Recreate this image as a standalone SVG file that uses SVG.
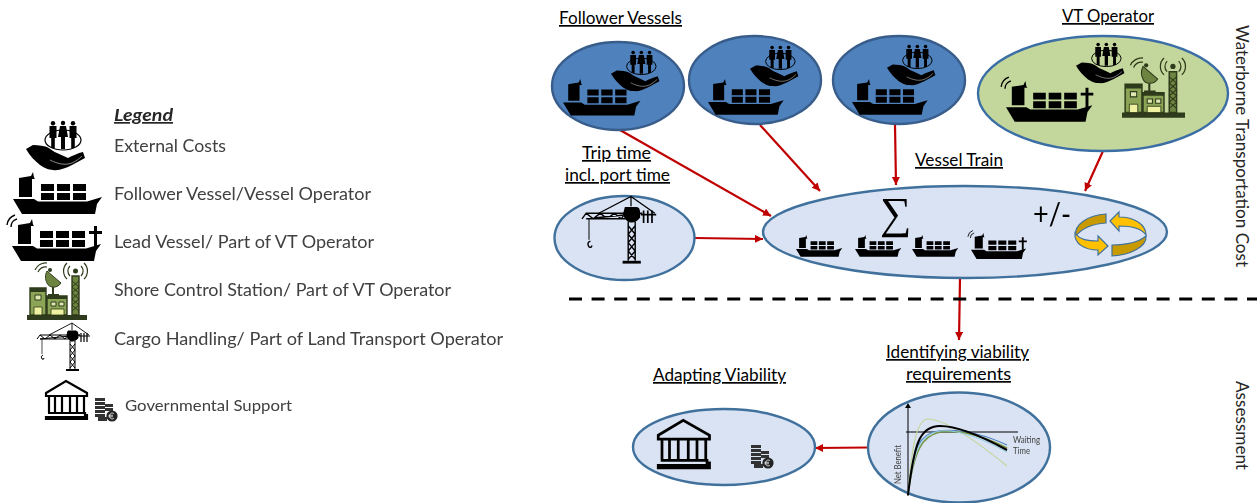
<svg xmlns="http://www.w3.org/2000/svg" xmlns:xlink="http://www.w3.org/1999/xlink" width="1257" height="503" viewBox="0 0 1257 503">
<style>
text{font-family:"Lato","Open Sans","Liberation Sans",sans-serif;fill:#000}
.lg{font-size:17px;fill:#404040}
.hd{font-size:17px;text-decoration:underline}
.vert{font-size:17px;fill:#262626}
.blue{fill:#4f81bd;stroke:#385d8a;stroke-width:2.4}
.light{fill:#dae3f3;stroke:#41719c;stroke-width:2.4}
.green{fill:#c3d69b;stroke:#3b6ea5;stroke-width:2.4}
.conn{stroke:#c00000;stroke-width:2.2;fill:none;marker-end:url(#arr)}
.soft{filter:url(#b)}
</style>
<defs>
<filter id="b" x="-10%" y="-10%" width="120%" height="120%"><feGaussianBlur stdDeviation="0.35"/></filter>
<marker id="arr" markerUnits="userSpaceOnUse" markerWidth="10" markerHeight="10" refX="8" refY="4" orient="auto"><path d="M0,0L8,4L0,8Z" fill="#c00000"/></marker>
<g id="ship">
<path d="M0,27H21L25,29.500H74L89,25L84,32L82,42H9Z" fill="#000"/>
<path d="M6,6L18,4L20,0L21,5.500L22,7H19V25H6Z" fill="#000"/>
<path d="M28,12H41V19H28ZM44,12H57V19H44ZM60,12H73V19H60ZM28,21H41V28H28ZM44,21H57V28H44ZM60,21H73V28H60Z" fill="#000"/>
</g>
<g id="lead">
<use href="#ship"/>
<path d="M-1,8A8,8 0 0 1 5,0M-5,6A12,12 0 0 1 3,-4" fill="none" stroke="#000" stroke-width="1.4"/>
<path d="M82,7H85V12H90V15H85V30H82V15H77V12H82Z" fill="#000"/>
</g>
<g id="person"><circle cx="0" cy="2.2" r="2.2"/><path d="M-3.500,5H3.500V17H1.800V27H-1.800V17H-3.500Z"/></g>
<g id="hand">
<ellipse cx="37" cy="20" rx="18" ry="10" fill="none" stroke="#000" stroke-width="1.2"/>
<use href="#person" x="27" y="1"/><use href="#person" x="47" y="1"/>
<g><circle cx="37" cy="3" r="2.200"/><path d="M34,6H40L42,17H39V29H35V17H32Z"/></g>
<path d="M0,29L7,25C13,25 18,26 21,27C25,29 28,32 31,33L42,38C46,36 52,33 57,32L59,38L46,45C40,48 33,51 27,50C22,50 17,47 14,45C9,41 4,36 0,29Z" fill="#000"/>
<path d="M24,40C30,43 38,46 46,43C50,41 53,39 56,36" fill="none" stroke="#aaa" stroke-width=".8"/>
</g>
<g id="building">
<path d="M0,52H60V57H0Z" fill="#2e3a1a"/>
<path d="M3,25H19V52H3ZM20,33H40V52H20Z" fill="#8ca454" stroke="#2e3a1a" stroke-width="1.400"/>
<path d="M3,25H19V29H3ZM20,33H40V36H20Z" fill="#2e3a1a"/>
<path d="M8,32H14V37H8ZM24,39H29V43H24ZM32,39H37V43H32Z" fill="#dfe8b0" stroke="#2e3a1a"/>
<path d="M7,44H15V52H7ZM24,46H37V52H24Z" fill="#eef2a0" stroke="#2e3a1a" stroke-width=".8"/>
<path d="M45,13H52V52H45Z" fill="#6d8440" stroke="#2e3a1a" stroke-width="1.400"/>
<path d="M45,18L52,24L45,30L52,36L45,42L52,48M52,18L45,24L52,30L45,36L52,42L45,48" stroke="#2e3a1a" fill="none"/>
<circle cx="48.500" cy="8" r="2.500" fill="#2e3a1a"/>
<path d="M43,3A7,7 0 0 0 43,13M40,0A11,11 0 0 0 40,16M54,3A7,7 0 0 1 54,13M57,0A11,11 0 0 1 57,16M11,9A8,8 0 0 1 20,4M8,7A12,12 0 0 1 20,0" fill="none" stroke="#2e3a1a" stroke-width="1.200"/>
<path d="M20,8L34,20C30,26 22,25 20,20C18,16 18,12 20,8Z" fill="#6d8440" stroke="#2e3a1a"/>
<path d="M26,24V32M21,32H32" stroke="#2e3a1a" stroke-width="2"/>
<circle cx="23" cy="7" r="2" fill="#2e3a1a"/>
</g>
<g id="crane" fill="none" stroke="#000">
<path d="M0,17L3,13H43L3,17H31M3,13L8,17L13,13L18,17L23,13L28,17L31,13" stroke-width="1"/>
<path d="M12,13L35,1L52,13M35,1V8" stroke-width=".9"/>
<path d="M33,19V47M38,19V47M33,22L38,28L33,34L38,40L33,46M38,22L33,28L38,34L33,40L38,46" stroke-width="1"/>
<path d="M29,48H42" stroke-width="2"/>
<path d="M31,9H39Q41,9 41,13V16Q38,20 34,19Q30,17 30,13Z" fill="#000"/>
<path d="M44,11V20M47,11V20M50,11V20M42,14H53" stroke-width="1.200"/>
<path d="M5,17V32" stroke-width=".7"/>
<path d="M6,33Q3,34 5,37Q7,38 7,36" stroke-width="1"/>
</g>
<g id="bank" fill="none" stroke="#000" stroke-width="2.200">
<path d="M1,13L21,1L42,13V16H1Z"/>
<path d="M4,16V33M10,16V33M17,16V33M25,16V33M32,16V33M39,16V33M3,33H40V37H1V39H42V34"/>
</g>
<g id="coins">
<path d="M0,1H10V4H0ZM0,5H10V8H0ZM0,9H10V12H0ZM0,13H10V16H0ZM0,17H10V20H0ZM10,7H18V10H10ZM10,11H18V14H10Z" fill="#333"/>
<path d="M3,20H12V24H3Z" fill="#333"/>
<circle cx="17" cy="19" r="5.600" fill="#222"/>
<path d="M19,16.500A3,3 0 1 0 19,21.500M13.500,18.300H18M13.500,19.800H18" fill="none" stroke="#eee" stroke-width=".8"/>
</g>
</defs>
<g id="legend" class="soft">
<text x="114" y="121" style="font-size:17px;font-weight:700;font-style:italic;text-decoration:underline;fill:#262626" textLength="59" lengthAdjust="spacingAndGlyphs">Legend</text>
<use href="#hand" x="26" y="120"/>
<text class="lg" x="114" y="152" textLength="112" lengthAdjust="spacingAndGlyphs">External Costs</text>
<use href="#ship" x="13" y="172"/>
<text class="lg" x="114" y="200" textLength="257" lengthAdjust="spacingAndGlyphs">Follower Vessel/Vessel Operator</text>
<use href="#lead" x="12" y="219"/>
<text class="lg" x="114" y="248" textLength="260" lengthAdjust="spacingAndGlyphs">Lead Vessel/ Part of VT Operator</text>
<use href="#building" x="27" y="263"/>
<text class="lg" x="114" y="296" textLength="337" lengthAdjust="spacingAndGlyphs">Shore Control Station/ Part of VT Operator</text>
<use href="#crane" x="37" y="322"/>
<text class="lg" x="114" y="345" textLength="389" lengthAdjust="spacingAndGlyphs">Cargo Handling/ Part of Land Transport Operator</text>
<use href="#bank" x="45" y="380"/>
<use href="#coins" x="95" y="397"/>
<text class="lg" x="125" y="411" style="font-size:15px" textLength="167" lengthAdjust="spacingAndGlyphs">Governmental Support</text>
</g>
<g id="connectors">
<path class="conn" d="M620,130L771,216"/>
<path class="conn" d="M760,125L820,191"/>
<path class="conn" d="M895,125L896,185"/>
<path class="conn" d="M1103,151L1085,191"/>
<path class="conn" d="M695,238L763,239"/>
<path class="conn" d="M960,278L959,340"/>
<path class="conn" d="M868,447.500L815,448"/>
</g>
<path id="divider" d="M569,299H1257" stroke="#000" stroke-width="3" stroke-dasharray="13 9.600" fill="none"/>
<g id="follower-1" class="soft">
<ellipse class="blue" cx="618" cy="86" rx="66" ry="44"/>
<use href="#hand" transform="translate(611,50) scale(.82)"/>
<use href="#ship" transform="translate(563,79) scale(.87)"/>
</g>
<g id="follower-2" class="soft">
<ellipse class="blue" cx="755" cy="80" rx="66" ry="44"/>
<use href="#hand" transform="translate(750,45) scale(.82)"/>
<use href="#ship" transform="translate(708,79) scale(.85)"/>
</g>
<g id="follower-3" class="soft">
<ellipse class="blue" cx="899" cy="80" rx="66" ry="44"/>
<use href="#hand" transform="translate(887,44) scale(.82)"/>
<use href="#ship" transform="translate(852,79) scale(.85)"/>
</g>
<text class="hd" x="559" y="24" textLength="123" lengthAdjust="spacingAndGlyphs">Follower Vessels</text>
<g id="vt-operator" class="soft">
<ellipse class="green" cx="1103" cy="93.500" rx="125" ry="57.500"/>
<use href="#hand" transform="translate(1076,42) scale(.82)"/>
<use href="#lead" transform="translate(1006,81) scale(.97)"/>
<use href="#building" transform="translate(1122,58) scale(1.05)"/>
</g>
<text class="hd" x="1062" y="22" textLength="92" lengthAdjust="spacingAndGlyphs">VT Operator</text>
<g id="trip-time" class="soft">
<ellipse class="light" cx="624.500" cy="238" rx="70" ry="42"/>
<use href="#crane" transform="translate(582,195) scale(1.4)"/>
</g>
<text class="hd" x="582" y="159" textLength="69" lengthAdjust="spacingAndGlyphs">Trip time </text>
<text class="hd" x="565" y="181" textLength="105" lengthAdjust="spacingAndGlyphs">incl. port time</text>
<g id="vessel-train" class="soft">
<ellipse class="light" cx="965" cy="232" rx="202" ry="46"/>
<text x="880" y="228" style="font-family:'Liberation Serif',serif;font-size:44px">∑</text>
<use href="#ship" transform="translate(796,235) scale(.52)"/>
<use href="#ship" transform="translate(855,235) scale(.52)"/>
<use href="#ship" transform="translate(912,235) scale(.52)"/>
<use href="#lead" transform="translate(971,233) scale(.62)"/>
<text x="1033" y="225" style="font-size:30px" textLength="38" lengthAdjust="spacingAndGlyphs">+/-</text>
<g stroke="#41719c" stroke-width="1.200">
<path d="M1110,221L1119,212V217C1135,217 1146,225 1146,235C1142,229 1133,226 1119,226V231Z" fill="#ffc000"/>
<path d="M1106,214V223C1092,224 1082,228 1076,236C1073,225 1088,215 1106,214Z" fill="#c99a06"/>
<path d="M1108,246L1098,255V250C1085,250 1074,244 1075,233C1080,240 1088,241 1098,241V236Z" fill="#ffc000"/>
<path d="M1112,245C1128,245 1140,241 1146,236C1147,247 1130,255 1112,256Z" fill="#c99a06"/>
</g>
</g>
<text class="hd" x="915" y="166" textLength="88" lengthAdjust="spacingAndGlyphs">Vessel Train</text>
<g id="adapting-viability" class="soft">
<ellipse class="light" cx="724" cy="447" rx="91" ry="38"/>
<use href="#bank" transform="translate(657,419) scale(1.25)"/>
<use href="#coins" x="751" y="444"/>
</g>
<text class="hd" x="653" y="381" textLength="133" lengthAdjust="spacingAndGlyphs">Adapting Viability</text>
<g id="viability-requirements" class="soft">
<ellipse class="light" cx="959" cy="447.500" rx="91" ry="55"/>
<path d="M908,496V408M906,432H1018" stroke="#000" stroke-width="1" fill="none"/>
<path d="M905,408L908,403L911,408Z" fill="#000"/>
<path d="M908,495C912,440 918,419 928,419C945,419 975,440 1007,466" stroke="#c3d69b" stroke-width="1.200" fill="none"/>
<path d="M908,495C913,445 920,434 938,431C960,428 985,435 1007,445" stroke="#4f81bd" stroke-width="1.200" fill="none"/>
<path d="M908,495C914,450 922,436 940,432C960,430 985,437 1007,448" stroke="#77933c" stroke-width="1.500" fill="none"/>
<path d="M908,495C914,447 921,434 940,431C960,429 985,440 1007,452" stroke="#93cddd" stroke-width="1.200" fill="none"/>
<path d="M908,495C914,445 919,426 940,426C960,426 985,438 1007,450" stroke="#000" stroke-width="2" fill="none"/>
<text x="1013" y="443" style="font-size:10px;fill:#404040" textLength="27" lengthAdjust="spacingAndGlyphs">Waiting</text>
<text x="1013" y="454" style="font-size:10px;fill:#404040" textLength="17" lengthAdjust="spacingAndGlyphs">Time</text>
<text transform="translate(901,484) rotate(-90)" style="font-size:9px;fill:#404040" textLength="39" lengthAdjust="spacingAndGlyphs">Net Benefit</text>
</g>
<text class="hd" x="886" y="358" textLength="143" lengthAdjust="spacingAndGlyphs">Identifying viability</text>
<text class="hd" x="906" y="380" textLength="105" lengthAdjust="spacingAndGlyphs"> requirements</text>
<text class="vert" transform="translate(1236,25) rotate(90)" textLength="242" lengthAdjust="spacingAndGlyphs">Waterborne Transportation Cost</text>
<text class="vert" transform="translate(1236,381) rotate(90)" textLength="89" lengthAdjust="spacingAndGlyphs">Assessment</text>
</svg>
